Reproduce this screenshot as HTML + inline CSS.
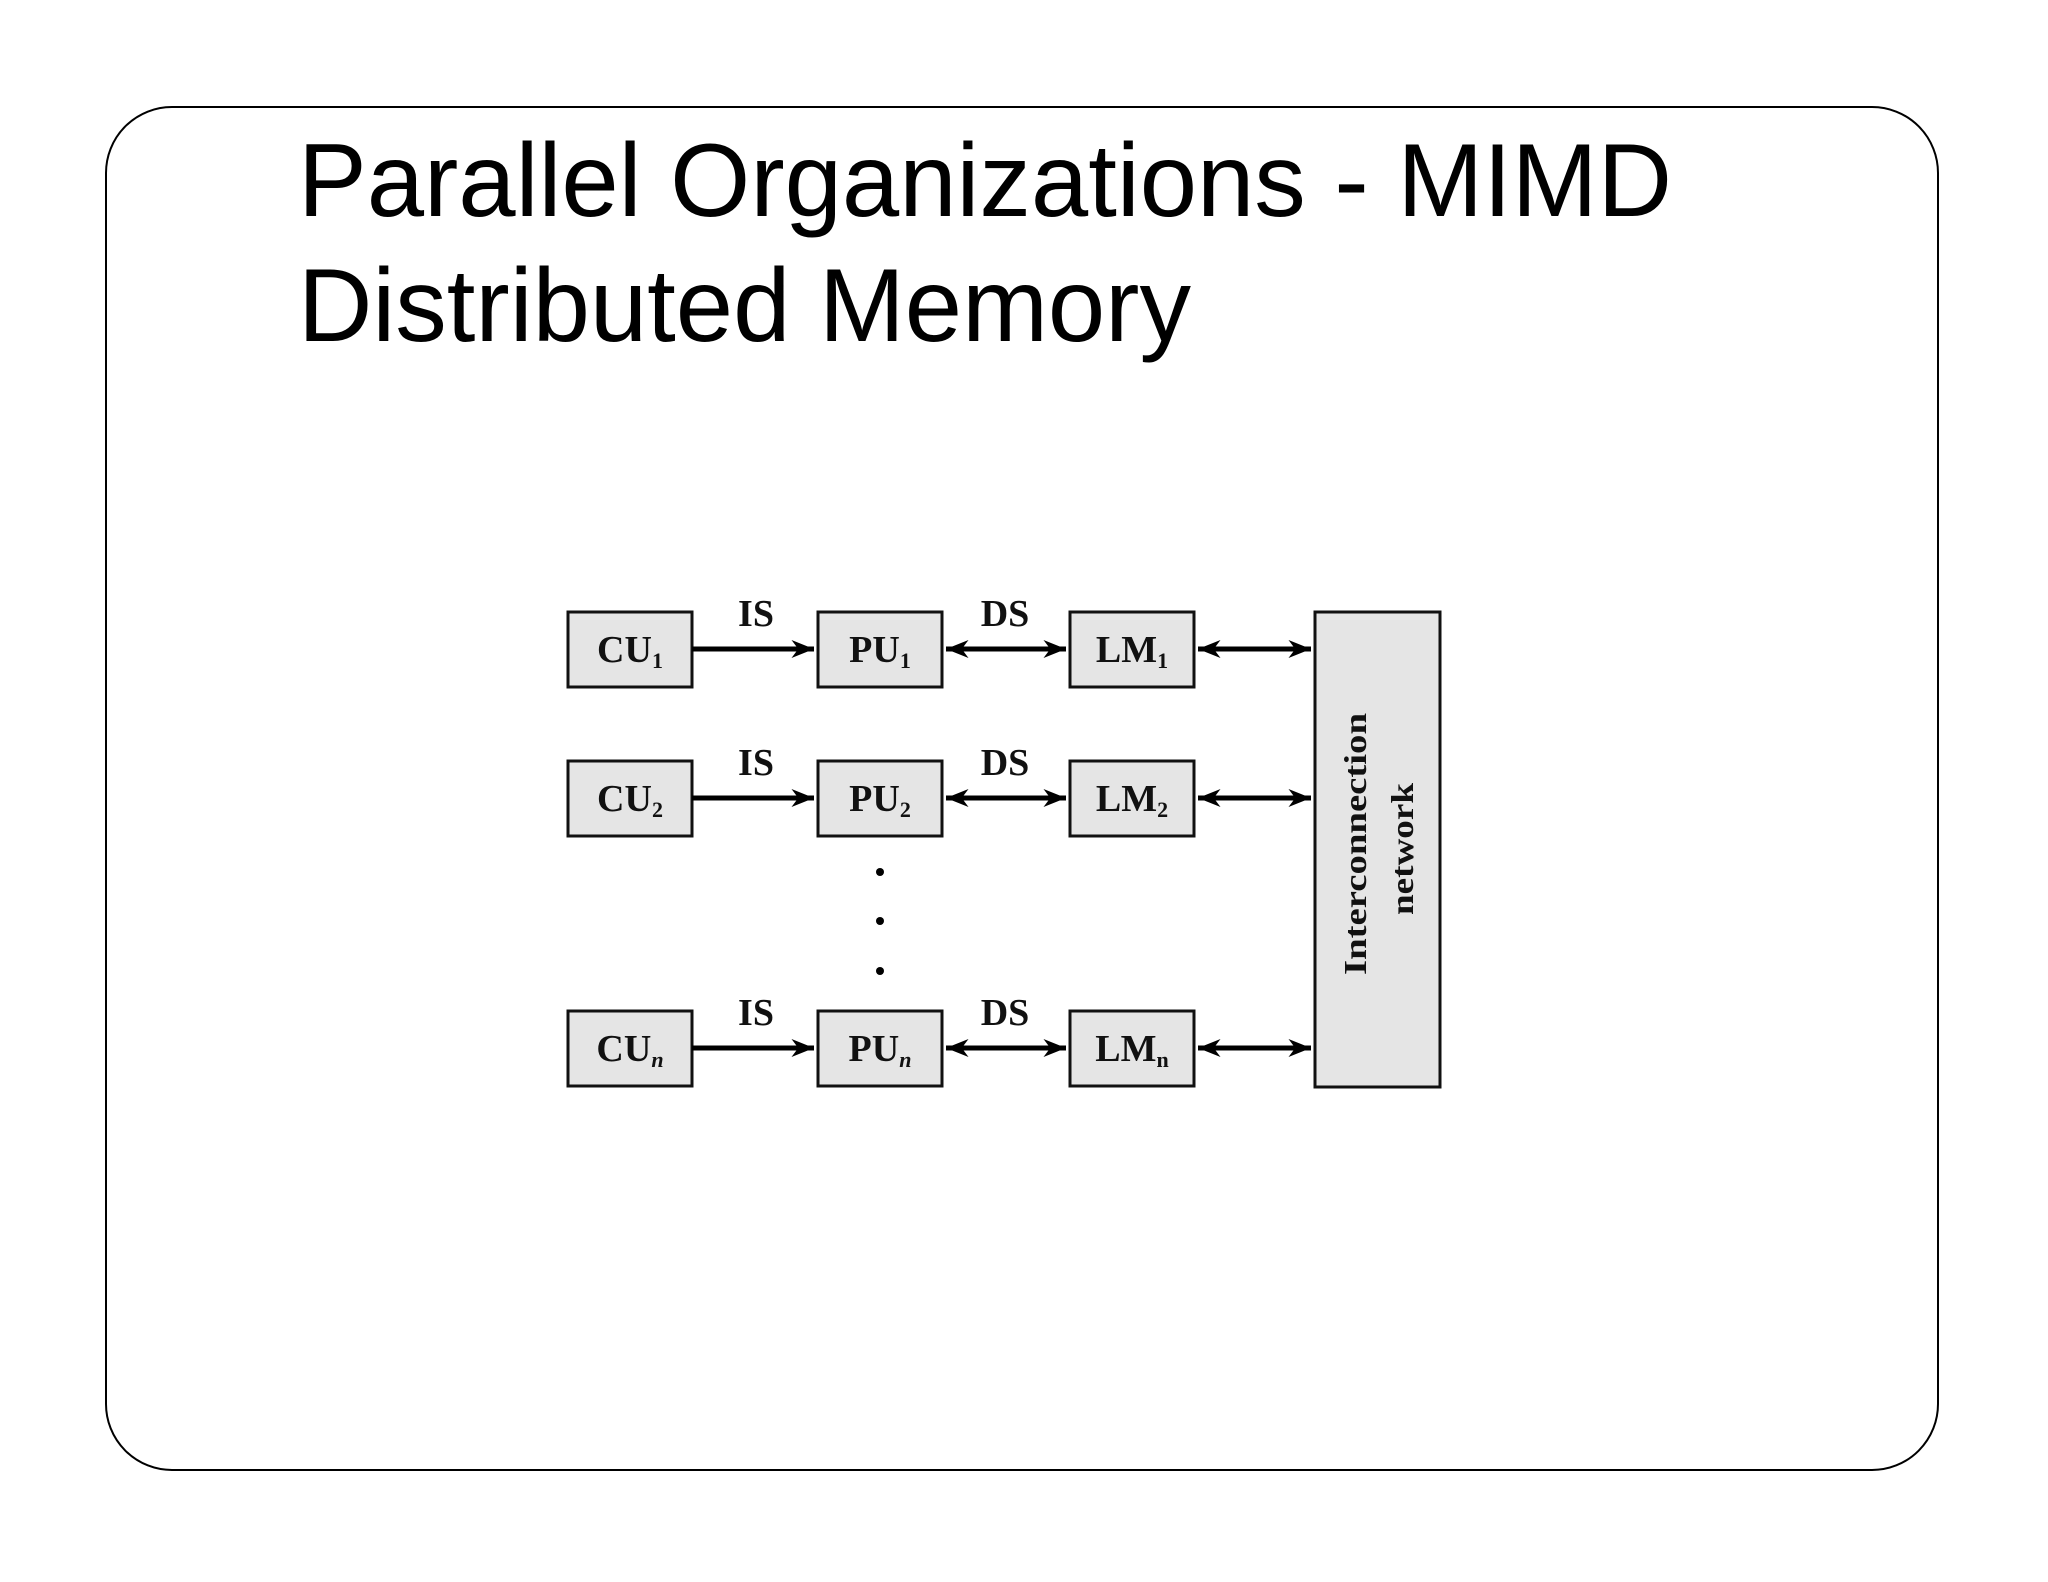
<!DOCTYPE html>
<html><head><meta charset="utf-8"><style>
html,body{margin:0;padding:0;background:#fff;}
svg{display:block;}
</style></head><body>
<svg width="2048" height="1582" viewBox="0 0 2048 1582" xmlns="http://www.w3.org/2000/svg">
<defs>
<marker id="ah" viewBox="0 0 10 10" refX="10" refY="5" markerWidth="4.5" markerHeight="4.5" orient="auto-start-reverse"><path d="M0,1 L10,5 L0,9 L3,5 Z" fill="#000"/></marker>
</defs>
<rect x="106" y="107" width="1832" height="1363" rx="66" ry="66" fill="#fff" stroke="#000" stroke-width="2"/>
<g font-family="Liberation Sans, sans-serif" font-size="104" fill="#000">
<text x="298" y="216" textLength="1374" lengthAdjust="spacingAndGlyphs">Parallel Organizations - MIMD</text>
<text x="298" y="341" textLength="893" lengthAdjust="spacingAndGlyphs">Distributed Memory</text>
</g>
<g fill="#e5e5e5" stroke="#111" stroke-width="3">
<rect x="568" y="612" width="124" height="75"/>
<rect x="818" y="612" width="124" height="75"/>
<rect x="1070" y="612" width="124" height="75"/>
<rect x="568" y="761" width="124" height="75"/>
<rect x="818" y="761" width="124" height="75"/>
<rect x="1070" y="761" width="124" height="75"/>
<rect x="568" y="1011" width="124" height="75"/>
<rect x="818" y="1011" width="124" height="75"/>
<rect x="1070" y="1011" width="124" height="75"/>
<rect x="1315" y="612" width="125" height="475"/>
</g>
<g stroke="#000" stroke-width="5" fill="none">
<line x1="692" y1="649" x2="814" y2="649" marker-end="url(#ah)"/>
<line x1="946" y1="649" x2="1066" y2="649" marker-start="url(#ah)" marker-end="url(#ah)"/>
<line x1="1198" y1="649" x2="1311" y2="649" marker-start="url(#ah)" marker-end="url(#ah)"/>
<line x1="692" y1="798" x2="814" y2="798" marker-end="url(#ah)"/>
<line x1="946" y1="798" x2="1066" y2="798" marker-start="url(#ah)" marker-end="url(#ah)"/>
<line x1="1198" y1="798" x2="1311" y2="798" marker-start="url(#ah)" marker-end="url(#ah)"/>
<line x1="692" y1="1048" x2="814" y2="1048" marker-end="url(#ah)"/>
<line x1="946" y1="1048" x2="1066" y2="1048" marker-start="url(#ah)" marker-end="url(#ah)"/>
<line x1="1198" y1="1048" x2="1311" y2="1048" marker-start="url(#ah)" marker-end="url(#ah)"/>
</g>
<g fill="#000">
<circle cx="880" cy="872" r="4"/><circle cx="880" cy="921" r="4"/><circle cx="880" cy="971" r="4"/>
</g>
<g font-family="Liberation Serif, serif" font-weight="bold" font-size="38" fill="#111" text-anchor="middle">
<text x="756" y="626">IS</text><text x="1005" y="626">DS</text>
<text x="756" y="775">IS</text><text x="1005" y="775">DS</text>
<text x="756" y="1025">IS</text><text x="1005" y="1025">DS</text>
<text x="630" y="662">CU<tspan font-size="22" dy="6">1</tspan></text>
<text x="880" y="662">PU<tspan font-size="22" dy="6">1</tspan></text>
<text x="1132" y="662">LM<tspan font-size="22" dy="6">1</tspan></text>
<text x="630" y="811">CU<tspan font-size="22" dy="6">2</tspan></text>
<text x="880" y="811">PU<tspan font-size="22" dy="6">2</tspan></text>
<text x="1132" y="811">LM<tspan font-size="22" dy="6">2</tspan></text>
<text x="630" y="1061">CU<tspan font-size="22" dy="6" font-style="italic">n</tspan></text>
<text x="880" y="1061">PU<tspan font-size="22" dy="6" font-style="italic">n</tspan></text>
<text x="1132" y="1061">LM<tspan font-size="22" dy="6">n</tspan></text>
</g>
<g font-family="Liberation Serif, serif" font-weight="bold" font-size="32" fill="#111" text-anchor="middle">
<text transform="translate(1366,844) rotate(-90)" textLength="262" lengthAdjust="spacingAndGlyphs">Interconnection</text>
<text transform="translate(1413,849) rotate(-90)" textLength="132" lengthAdjust="spacingAndGlyphs">network</text>
</g>
</svg>
</body></html>
